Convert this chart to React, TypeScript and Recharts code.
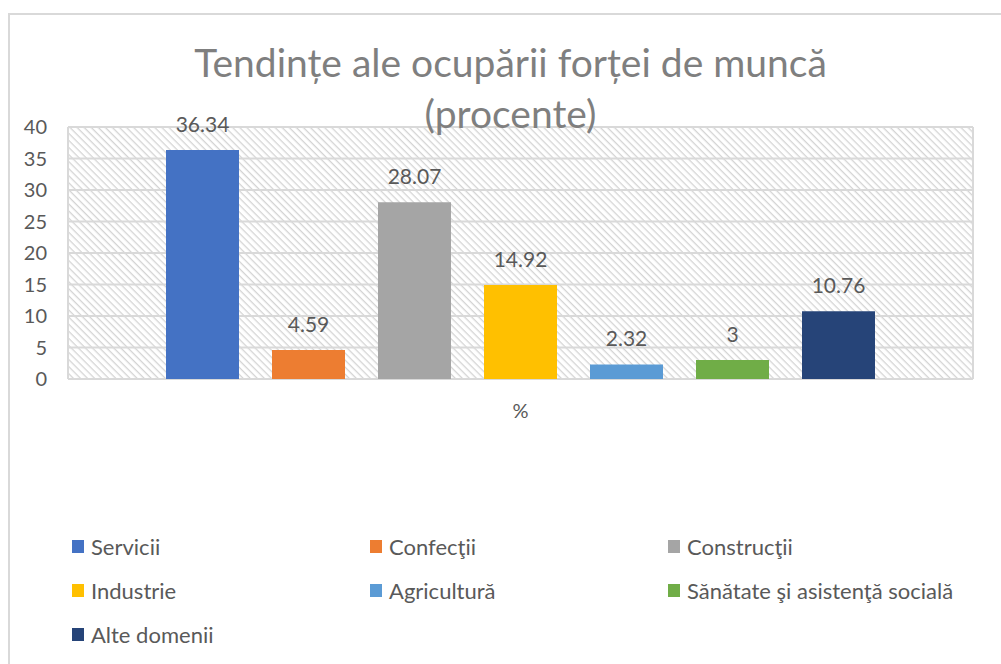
import React from "react";
import { Bar, BarChart, CartesianGrid, LabelList, XAxis, YAxis } from "recharts";

const categories = ["%"];
const seriesNames = [
  "Servicii",
  "Confecţii",
  "Construcţii",
  "Industrie",
  "Agricultură",
  "Sănătate şi asistenţă socială",
  "Alte domenii",
];
const seriesValues = [36.34, 4.59, 28.07, 14.92, 2.32, 3, 10.76];
const seriesColors = ["#4472C4", "#ED7D31", "#A5A5A5", "#FFC000", "#5B9BD5", "#70AD47", "#264478"];
const yTicks = [0, 5, 10, 15, 20, 25, 30, 35, 40];
const titleLines = ["Tendințe ale ocupării forței de muncă", "(procente)"];

const data = categories.map((name) => {
  const row: Record<string, string | number> = { name };
  seriesValues.forEach((v, i) => {
    row["s" + i] = v;
  });
  return row;
});

const font = "Lato, 'Open Sans', sans-serif";
const ink = "#595959";
const line = "#d9d9d9";

export default function App() {
  return (
    <div style={{ position: "absolute", left: 0, top: 0, width: 1001, height: 664, overflow: "hidden", fontFamily: font }}>
      <svg width={0} height={0} style={{ position: "absolute" }}>
        <defs>
          <pattern id="hatch" patternUnits="userSpaceOnUse" width={5} height={5} patternTransform="rotate(45)">
            <rect x={0} y={0} width={5} height={1.3} fill="#d4d4d4" />
          </pattern>
        </defs>
      </svg>
      <div
        style={{
          position: "absolute",
          left: 8,
          top: 13,
          width: 1001,
          height: 700,
          borderTop: `2px solid ${line}`,
          borderLeft: `2px solid ${line}`,
        }}
      />
      <div style={{ position: "absolute", left: 0, top: 0 }}>
        <BarChart
          width={1001}
          height={664}
          data={data}
          margin={{ top: 127, right: 28, left: 10, bottom: 255 }}
          barSize={73}
          barGap={33}
        >
          <CartesianGrid
            fill="url(#hatch)"
            stroke={line}
            strokeWidth={2}
            horizontalValues={yTicks}
            verticalCoordinatesGenerator={({ offset }: any) => [offset.left, offset.left + offset.width]}
          />
          <XAxis
            dataKey="name"
            axisLine={false}
            tickLine={false}
            height={30}
            tickSize={0}
            tickMargin={25}
            tick={{ fill: ink, fontSize: 20, fontFamily: font }}
          />
          <YAxis
            domain={[0, 40]}
            ticks={yTicks}
            axisLine={false}
            tickLine={false}
            width={58}
            tickSize={0}
            tickMargin={21}
            tick={{ fill: ink, fontSize: 20, fontFamily: font }}
          />
          {seriesNames.map((n, i) => (
            <Bar key={n} dataKey={"s" + i} name={n} fill={seriesColors[i]} isAnimationActive={false}>
              <LabelList dataKey={"s" + i} position="top" offset={18} fill={ink} fontSize={21} fontFamily={font} />
            </Bar>
          ))}
        </BarChart>
      </div>
      <div
        style={{
          position: "absolute",
          left: 10,
          width: 1001,
          top: 37,
          textAlign: "center",
          color: "#7f7f7f",
          fontSize: 39,
          lineHeight: "51px",
          paddingRight: 20,
        }}
      >
        {titleLines.map((t) => (
          <div key={t}>{t}</div>
        ))}
      </div>
      {seriesNames.map((n, i) => {
        const col = i % 3;
        const row = Math.floor(i / 3);
        return (
          <div
            key={n}
            style={{
              position: "absolute",
              left: 72 + col * 298,
              top: 546 + row * 44 - 14,
              height: 28,
              display: "flex",
              alignItems: "center",
              color: ink,
              fontSize: 22,
              whiteSpace: "nowrap",
            }}
          >
            <span style={{ display: "inline-block", width: 12, height: 13, background: seriesColors[i], marginRight: 7 }} />
            {n}
          </div>
        );
      })}
    </div>
  );
}
